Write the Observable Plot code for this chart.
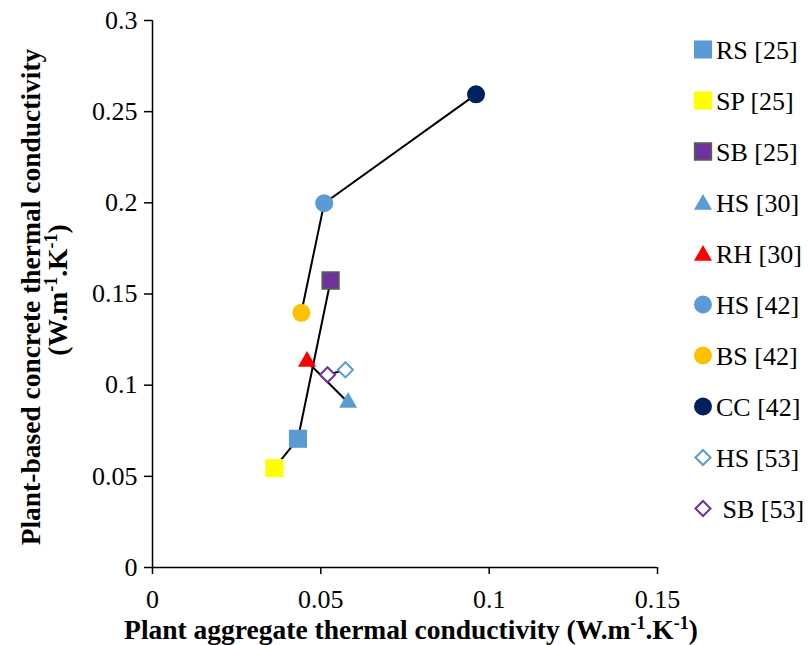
<!DOCTYPE html>
<html><head><meta charset="utf-8">
<script src="https://cdn.jsdelivr.net/npm/d3@7"></script>
<script src="https://cdn.jsdelivr.net/npm/@observablehq/plot@0.6"></script>
<style>
body{margin:0;background:#fff;}
#chart{position:relative;width:808px;height:645px;}
</style></head><body><div id="chart"></div>
<script>
// ---- data ----
const names   = ["RS [25]","SP [25]","SB [25]","HS [30]","RH [30]","HS [42]","BS [42]","CC [42]","HS [53]","\u00a0SB [53]"];
const xValues = [0.0432, 0.0362, 0.0529, 0.0581, 0.0459, 0.0510, 0.0442, 0.0961, 0.0573, 0.0520];
const yValues = [0.0706, 0.0545, 0.1574, 0.0905, 0.1130, 0.1998, 0.1397, 0.2595, 0.1084, 0.1057];
const groups  = ["25","25","25","30","30","42","42","42","53","53"];
const symbolNames = ["square","square","square","triangle","triangle","circle","circle","circle","diamond2","diamond2"];
const fills   = ["#5B9BD5","#FFFF00","#7030A0","#5B9BD5","#FF0000","#5B9BD5","#FFC000","#002060","#FFFFFF","#FFFFFF"];
const strokes = ["none","none","#595959","none","none","none","none","none","#5B9BD5","#7030A0"];
const xTicks = [0, 0.05, 0.1, 0.15];
const yTicks = [0, 0.05, 0.1, 0.15, 0.2, 0.25, 0.3];
const xTitle = "Plant aggregate thermal conductivity (W.m";
const yTitle1 = "Plant-based concrete thermal conductivity";

// marker radius (Plot r: symbol area = PI r^2)
const radiusFor = {square: 10.2, triangle: 6.7, circle: 9, diamond2: 6.8};

const rows = names.map((n, i) => ({name: n, x: xValues[i], y: yValues[i], group: groups[i]}));

const FONT = "'Liberation Serif', 'Times New Roman', serif";

const chart = Plot.plot({
  width: 808, height: 645,
  marginLeft: 152, marginRight: 151, marginTop: 20, marginBottom: 78,
  x: {domain: [0, 0.15]},
  y: {domain: [0, 0.3]},
  style: {fontFamily: FONT, fontSize: "26px", color: "#000", background: "#fff", overflow: "visible"},
  marks: [
    Plot.axisX({ticks: xTicks, tickFormat: d => String(d), tickSize: 7, tickPadding: 15, label: null, fontSize: 26, strokeWidth: 1.5}),
    Plot.axisY({ticks: yTicks, tickFormat: d => String(d), tickSize: 8, tickPadding: 7, label: null, fontSize: 26, strokeWidth: 1.5}),
    Plot.ruleX([0], {stroke: "#000", strokeWidth: 1.5}),
    Plot.ruleY([0], {stroke: "#000", strokeWidth: 1.5}),
    Plot.line(rows, {x: "x", y: "y", z: "group", sort: "x", stroke: "#000", strokeWidth: 2}),
    ...rows.map((r, i) => Plot.dot([r], {
      x: "x", y: "y",
      symbol: symbolNames[i],
      r: radiusFor[symbolNames[i]] - (strokes[i] !== "none" && symbolNames[i] === "square" ? 1 : 0),
      fill: fills[i],
      stroke: strokes[i],
      strokeWidth: strokes[i] === "none" ? 0 : 2,
      fillOpacity: 1
    }))
  ]
});
document.getElementById("chart").appendChild(chart);

const svg = d3.select(chart);

// x title
const xt = svg.append("text")
  .attr("x", 411).attr("y", 639)
  .attr("text-anchor", "middle")
  .attr("font-family", FONT).attr("font-weight", "bold").attr("font-size", 27.5).attr("fill", "#000");
xt.append("tspan").text(xTitle);
xt.append("tspan").attr("font-size", 18).attr("dy", -10).text("-1");
xt.append("tspan").attr("dy", 10).text(".K");
xt.append("tspan").attr("font-size", 18).attr("dy", -10).text("-1");
xt.append("tspan").attr("dy", 10).text(")");

// y title (two lines)
svg.append("text")
  .attr("transform", "translate(30,297) rotate(-90)")
  .attr("text-anchor", "middle").attr("dy", "0.35em")
  .attr("font-family", FONT).attr("font-weight", "bold").attr("font-size", 27.5).attr("fill", "#000")
  .text(yTitle1);
const yt2 = svg.append("text")
  .attr("transform", "translate(58,290) rotate(-90)")
  .attr("text-anchor", "middle").attr("y", 9)
  .attr("font-family", FONT).attr("font-weight", "bold").attr("font-size", 27.5).attr("fill", "#000");
yt2.append("tspan").text("(W.m");
yt2.append("tspan").attr("font-size", 18).attr("dy", -10).text("-1");
yt2.append("tspan").attr("dy", 10).text(".K");
yt2.append("tspan").attr("font-size", 18).attr("dy", -10).text("-1");
yt2.append("tspan").attr("dy", 10).text(")");

// legend
const symMap = {square: d3.symbolSquare, triangle: d3.symbolTriangle, circle: d3.symbolCircle, diamond2: d3.symbolDiamond2};
const lg = svg.append("g").attr("text-anchor", "start");
names.forEach((n, i) => {
  const cy = 49.5 + 51 * i;
  const r = radiusFor[symbolNames[i]] - (strokes[i] !== "none" && symbolNames[i] === "square" ? 1 : 0);
  const dyOff = symbolNames[i] === "triangle" ? 2 : 0;
  lg.append("path")
    .attr("transform", `translate(703,${cy + dyOff})`)
    .attr("d", d3.symbol(symMap[symbolNames[i]], Math.PI * r * r)())
    .attr("fill", fills[i])
    .attr("stroke", strokes[i])
    .attr("stroke-width", strokes[i] === "none" ? 0 : 2);
  lg.append("text")
    .attr("x", 716).attr("y", cy + 9)
    .attr("text-anchor", "start")
    .attr("font-family", FONT).attr("font-size", 26).attr("fill", "#000")
    .attr("xml:space", "preserve")
    .text(n);
});
</script>
</body></html>
